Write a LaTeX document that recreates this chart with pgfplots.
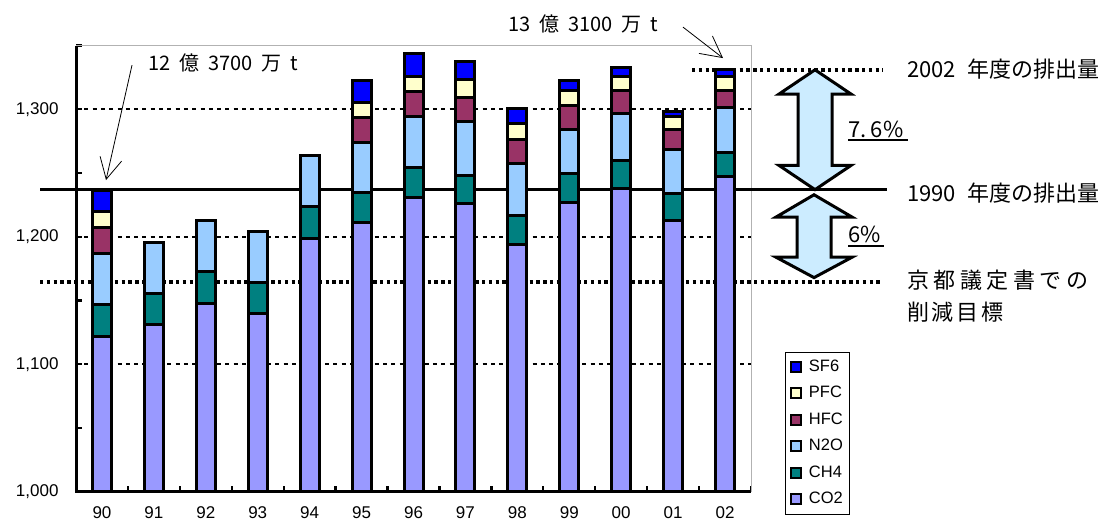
\documentclass[border=0pt]{standalone}
\usepackage{pgfplots}
\pgfplotsset{compat=1.18}
\usepackage{pgfplotstable}
\usetikzlibrary{arrows.meta}
\usepackage{fontspec}
\setmainfont{Liberation Sans}
\newfontfamily\jp{Noto Sans CJK JP}
\definecolor{cCO}{HTML}{9999FF}
\definecolor{cCH}{HTML}{008080}
\definecolor{cNO}{HTML}{99CCFF}
\definecolor{cHF}{HTML}{993366}
\definecolor{cPF}{HTML}{FFFFCC}
\definecolor{cSF}{HTML}{0000FF}
\definecolor{cArr}{HTML}{CCECFF}
\pgfplotstableread{
x CO2 CH4 N2O HFC PFC SF6
0 1122 24.7 40.2 20.2 12.6 16.9
1 1131 24.6 40.2 0 0 0
2 1148 25.0 40.0 0 0 0
3 1140 24.5 40.0 0 0 0
4 1199 25.0 40.0 0 0 0
5 1211 24.0 38.7 20.0 12.0 16.7
6 1231 23.0 40.7 19.6 11.3 18.3
7 1226 22.2 42.0 19.3 13.6 14.6
8 1194 22.7 40.6 19.4 12.0 11.7
9 1227 22.5 34.5 19.3 11.5 7.9
10 1238 21.7 37.2 17.7 11.0 7.4
11 1213 20.9 34.5 15.7 9.9 4.5
12 1247 18.9 35.6 13.5 10.5 5.5
}\ghg
\begin{document}
\begin{tikzpicture}
\useasboundingbox (0,0) rectangle (1105pt,524pt);
\begin{axis}[
  at={(76pt,32.2pt)}, anchor=south west,
  scale only axis, width=675pt, height=446.2pt,
  clip mode=individual,
  xmin=-0.5, xmax=12.5, ymin=1000, ymax=1350,
  ybar stacked, bar width=19pt,
  xtick={-0.5,0.5,...,12.5},
  xticklabels={90,91,92,93,94,95,96,97,98,99,00,01,02,{}},
  ytick={1000,1100,1200,1300},
  minor ytick={1050,1150,1250,1350},
  xtick pos=lower, ytick pos=left,
  tick align=inside,
  major tick length=6pt, minor tick length=6pt,
  every tick/.style={black, line width=2.3pt},
  minor tick style={black, line width=2.3pt},
  axis line style={draw=gray!60, line width=0.8pt},
  ymajorgrids,
  major grid style={black, line width=2.3pt, dash pattern=on 4pt off 4.3pt},
  /pgf/number format/assume math mode=true,
  /pgf/number format/1000 sep={,},
  yticklabel style={font=\fontsize{17}{17}\selectfont, xshift=-14pt},
  xticklabel style={font=\fontsize{17}{17}\selectfont, yshift=-11pt, xshift=25.96pt},
  every axis plot/.append style={draw=black, line width=3pt},
  reverse legend,
  legend style={at={(1.0504,0.3133)}, anchor=north west, draw=black, line width=0.8pt,
    font=\fontsize{16.5}{16.5}\selectfont, row sep=7.5pt, inner sep=5pt,
    nodes={inner sep=2pt, text height=12pt, text depth=3pt}},
  legend cell align=left,
  legend image code/.code={\draw[#1, line width=2pt] (0pt,-5pt) rectangle (10pt,5pt); \path (14pt,0pt);},
]
\addplot[fill=cCO] table[x=x,y=CO2]{\ghg};
\addplot[fill=cCH] table[x=x,y=CH4]{\ghg};
\addplot[fill=cNO] table[x=x,y=N2O]{\ghg};
\addplot[fill=cHF] table[x=x,y=HFC]{\ghg};
\addplot[fill=cPF] table[x=x,y=PFC]{\ghg};
\addplot[fill=cSF] table[x=x,y=SF6]{\ghg};
\legend{CO2,CH4,N2O,HFC,PFC,SF6}
% black left and bottom axis lines
\draw[black, line width=3pt] (rel axis cs:0,1) -- (rel axis cs:0,0) -- (rel axis cs:1,0);
% reference lines
\draw[black, line width=3.3pt] (axis cs:-1.193,1237) -- (axis cs:15.119,1237);
\draw[black, line width=3.5pt, dash pattern=on 3.4pt off 3.4pt] (axis cs:-1.193,1164.5) -- (axis cs:15.042,1164.5);
\draw[black, line width=3.5pt, dash pattern=on 3.4pt off 3.4pt] (axis cs:11.364,1331) -- (axis cs:15.042,1331);
% double arrows
\draw[fill=cArr, line width=3pt, line join=miter]
  (axis cs:13.733,1331) -- (axis cs:14.426,1312) -- (axis cs:14.060,1312) -- (axis cs:14.060,1256)
  -- (axis cs:14.426,1256) -- (axis cs:13.733,1237) -- (axis cs:13.040,1256) -- (axis cs:13.406,1256)
  -- (axis cs:13.406,1312) -- (axis cs:13.040,1312) -- cycle;
\draw[fill=cArr, line width=3pt, line join=miter]
  (axis cs:13.714,1233) -- (axis cs:14.446,1215.5) -- (axis cs:14.041,1215.5) -- (axis cs:14.041,1184)
  -- (axis cs:14.446,1184) -- (axis cs:13.714,1168) -- (axis cs:12.982,1184) -- (axis cs:13.387,1184)
  -- (axis cs:13.387,1215.5) -- (axis cs:12.982,1215.5) -- cycle;
% percent labels
\node[anchor=base west, inner sep=0pt, font=\jp\fontsize{22}{22}\selectfont] at (axis cs:14.368,1277.9) {7.\hspace{0.2em}6\%};
\draw[line width=1.8pt] (axis cs:14.368,1275.7) -- (axis cs:15.523,1275.7);
\node[anchor=base west, inner sep=0pt, font=\jp\fontsize{22}{22}\selectfont] at (axis cs:14.368,1195.4) {6\%};
\draw[line width=1.8pt] (axis cs:14.368,1192.7) -- (axis cs:15.062,1192.7);
% right labels
\node[anchor=west, inner sep=0pt, font=\jp\fontsize{22}{22}\selectfont] at (axis cs:15.505,1331.6) {2002\hspace{0.5em}年度の排出量};
\node[anchor=west, inner sep=0pt, font=\jp\fontsize{22}{22}\selectfont] at (axis cs:15.505,1234.3) {1990\hspace{0.5em}年度の排出量};
\node[anchor=west, inner sep=0pt, font=\jp\fontsize{22}{22}\selectfont] at (axis cs:15.505,1166) {京\hspace{4.5pt}都\hspace{4.5pt}議\hspace{4.5pt}定\hspace{4.5pt}書\hspace{4.5pt}で\hspace{4.5pt}の};
\node[anchor=west, inner sep=0pt, font=\jp\fontsize{22}{22}\selectfont] at (axis cs:15.505,1140.9) {削\hspace{2.7pt}減\hspace{2.7pt}目\hspace{2.7pt}標};
% total annotations
\node[anchor=west, inner sep=0pt, font=\jp\fontsize{20}{20}\selectfont] at (axis cs:0.887,1336.3) {12\hspace{0.45em}億\hspace{0.45em}3700\hspace{0.45em}万\hspace{0.45em}t};
\draw[line width=0.8pt, -{Straight Barb[length=21pt,width=22pt]}] (axis cs:0.579,1334.7) -- (axis cs:0.078,1244.5);
\node[anchor=west, inner sep=0pt, font=\jp\fontsize{20}{20}\selectfont] at (axis cs:7.820,1366.9) {13\hspace{0.45em}億\hspace{0.45em}3100\hspace{0.45em}万\hspace{0.45em}t};
\draw[line width=0.8pt, -{Straight Barb[length=21pt,width=22pt]}] (axis cs:11.190,1364.5) -- (axis cs:11.961,1340.2);
\end{axis}
\end{tikzpicture}
\end{document}
